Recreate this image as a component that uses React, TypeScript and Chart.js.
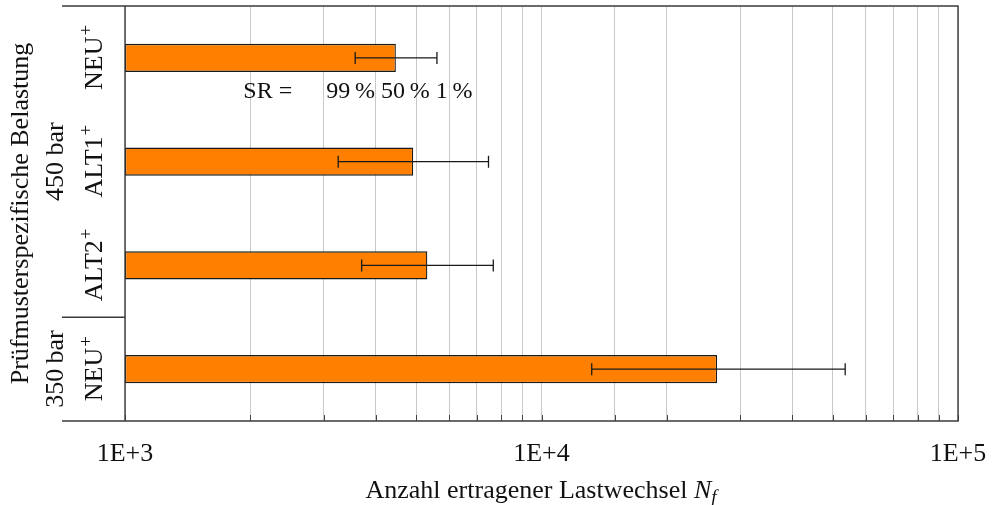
import React, { useEffect, useRef } from 'react';
import { Chart, registerables } from 'chart.js';

Chart.register(...registerables);

// ---- data ----
const categories = ['NEU', 'ALT1', 'ALT2', 'NEU'];
const categorySup = ['+', '+', '+', '+'];
const groupLabels = ['450 bar', '350\u2009bar'];
const groupSizes = [3, 1];
const medianCycles = [4470, 4920, 5320, 26400]; // SR 50 %
const lowCycles = [3570, 3250, 3700, 13200]; // SR 99 %
const highCycles = [5610, 7460, 7660, 53600]; // SR 1 %
const xTickValues = [1000, 10000, 100000];
const xTickLabels = ['1E+3', '1E+4', '1E+5'];
const xTitle = 'Anzahl ertragener Lastwechsel';
const xTitleSymbol = 'N';
const xTitleSub = 'f';
const yTitle = 'Prüfmusterspezifische Belastung';
const srPrefix = 'SR =';
const srLabels = ['99\u2009%', '50\u2009%', '1\u2009%'];

const FONT = '"Liberation Serif", "DejaVu Serif", serif';
const FS = 26;

const overlayPlugin = {
  id: 'overlay',
  afterDatasetsDraw(chart: any) {
    const { ctx, scales } = chart;
    const xs = scales.x;
    const ys = scales.y;
    ctx.save();
    ctx.strokeStyle = '#1a1a1a';
    ctx.lineWidth = 1.3;
    for (let i = 0; i < categories.length; i++) {
      const yc = ys.getPixelForValue(i);
      const x1 = xs.getPixelForValue(lowCycles[i]);
      const x2 = xs.getPixelForValue(highCycles[i]);
      ctx.beginPath();
      ctx.moveTo(x1, yc);
      ctx.lineTo(x2, yc);
      ctx.moveTo(x1, yc - 6);
      ctx.lineTo(x1, yc + 6);
      ctx.moveTo(x2, yc - 6);
      ctx.lineTo(x2, yc + 6);
      ctx.stroke();
    }
    ctx.restore();
  },
  afterDraw(chart: any) {
    const { ctx, chartArea: a, scales } = chart;
    const xs = scales.x;
    const ys = scales.y;
    const leftEdge = 62;
    ctx.save();
    // tick marks at bottom
    ctx.strokeStyle = '#444';
    ctx.lineWidth = 1;
    xs.ticks.forEach((t: any) => {
      const px = Math.round(xs.getPixelForValue(t.value)) + 0.5;
      ctx.beginPath();
      ctx.moveTo(px, a.bottom);
      ctx.lineTo(px, a.bottom - 6);
      ctx.stroke();
    });
    // frame
    ctx.strokeStyle = '#3a3a3a';
    ctx.lineWidth = 1.4;
    ctx.beginPath();
    ctx.moveTo(leftEdge, a.top);
    ctx.lineTo(a.right, a.top);
    ctx.lineTo(a.right, a.bottom);
    ctx.lineTo(leftEdge, a.bottom);
    ctx.moveTo(a.left, a.top);
    ctx.lineTo(a.left, a.bottom);
    let idx = 0;
    for (let g = 0; g < groupSizes.length - 1; g++) {
      idx += groupSizes[g];
      const yd = (ys.getPixelForValue(idx - 1) + ys.getPixelForValue(idx)) / 2;
      ctx.moveTo(leftEdge, yd);
      ctx.lineTo(a.left, yd);
    }
    ctx.stroke();

    ctx.fillStyle = '#111';
    const supFS = Math.round(FS * 0.72);
    // category labels, rotated
    for (let i = 0; i < categories.length; i++) {
      const yc = ys.getPixelForValue(i);
      ctx.save();
      ctx.translate(102, yc);
      ctx.rotate(-Math.PI / 2);
      ctx.font = `${FS}px ${FONT}`;
      const w1 = ctx.measureText(categories[i]).width;
      ctx.font = `${supFS}px ${FONT}`;
      const w2 = ctx.measureText(categorySup[i]).width;
      const x0 = -(w1 + w2) / 2;
      ctx.textAlign = 'left';
      ctx.textBaseline = 'alphabetic';
      ctx.font = `${FS}px ${FONT}`;
      ctx.fillText(categories[i], x0, 0);
      ctx.font = `${supFS}px ${FONT}`;
      ctx.fillText(categorySup[i], x0 + w1 + 1, -10);
      ctx.restore();
    }
    // group labels
    let start = 0;
    for (let g = 0; g < groupSizes.length; g++) {
      const end = start + groupSizes[g] - 1;
      const yc = (ys.getPixelForValue(start) + ys.getPixelForValue(end)) / 2;
      ctx.save();
      ctx.translate(63, yc);
      ctx.rotate(-Math.PI / 2);
      ctx.font = `${FS}px ${FONT}`;
      ctx.textAlign = 'center';
      ctx.textBaseline = 'alphabetic';
      ctx.fillText(groupLabels[g], 0, 0);
      ctx.restore();
      start += groupSizes[g];
    }
    // y title
    ctx.save();
    ctx.translate(28, (a.top + a.bottom) / 2);
    ctx.rotate(-Math.PI / 2);
    ctx.font = `${FS}px ${FONT}`;
    ctx.textAlign = 'center';
    ctx.textBaseline = 'alphabetic';
    ctx.fillText(yTitle, 0, 0);
    ctx.restore();

    // x title with italic N_f
    ctx.save();
    ctx.textAlign = 'left';
    ctx.textBaseline = 'alphabetic';
    ctx.font = `${FS}px ${FONT}`;
    const t1 = xTitle + ' ';
    const wt1 = ctx.measureText(t1).width;
    ctx.font = `italic ${FS}px ${FONT}`;
    const wN = ctx.measureText(xTitleSymbol).width;
    ctx.font = `italic ${supFS}px ${FONT}`;
    const wf = ctx.measureText(xTitleSub).width;
    const total = wt1 + wN + wf + 1;
    const xStart = (a.left + a.right) / 2 - total / 2;
    const yb = 498;
    ctx.font = `${FS}px ${FONT}`;
    ctx.fillText(t1, xStart, yb);
    ctx.font = `italic ${FS}px ${FONT}`;
    ctx.fillText(xTitleSymbol, xStart + wt1, yb);
    ctx.font = `italic ${supFS}px ${FONT}`;
    ctx.fillText(xTitleSub, xStart + wt1 + wN, yb + 5);
    ctx.restore();

    // SR annotation under first bar
    ctx.save();
    ctx.font = `24px ${FONT}`;
    ctx.textBaseline = 'alphabetic';
    const ySR = 98;
    const pLow = xs.getPixelForValue(lowCycles[0]);
    ctx.textAlign = 'right';
    ctx.fillText(srPrefix, pLow - 63, ySR);
    ctx.textAlign = 'left';
    let xp = pLow - 29;
    const gap = ctx.measureText(' ').width;
    srLabels.forEach((s) => {
      ctx.fillText(s, xp, ySR);
      xp += ctx.measureText(s).width + gap;
    });
    ctx.restore();

    ctx.restore();
  },
};

export default function App() {
  const ref = useRef<HTMLCanvasElement>(null);
  useEffect(() => {
    document.body.style.margin = '0';
    const canvas = ref.current!;
    const chart = new Chart(canvas, {
      type: 'bar',
      data: {
        labels: categories.map((c, i) => c + categorySup[i]),
        datasets: [
          {
            data: medianCycles,
            backgroundColor: '#ff8000',
            borderColor: '#1a1a1a',
            borderWidth: 1.3,
            borderSkipped: false,
            barPercentage: 0.27,
            categoryPercentage: 1,
          },
        ],
      },
      options: {
        indexAxis: 'y',
        animation: false,
        responsive: false,
        events: [],
        layout: { padding: { top: 6, right: 38, left: 0, bottom: 0 } },
        plugins: { legend: { display: false }, tooltip: { enabled: false } },
        scales: {
          x: {
            type: 'logarithmic',
            min: 1000,
            max: 100000,
            position: 'bottom',
            border: { display: false },
            grid: { color: '#c8c8c8', lineWidth: 1, drawTicks: false },
            ticks: {
              autoSkip: false,
              maxRotation: 0,
              minRotation: 0,
              padding: 18,
              color: '#111',
              font: { family: FONT, size: FS },
              callback: (v: any) => {
                const k = xTickValues.indexOf(Number(v));
                return k >= 0 ? xTickLabels[k] : '';
              },
            },
            afterFit: (s: any) => {
              s.height = 84;
              s.paddingRight = 0;
              s.paddingLeft = 0;
            },
          },
          y: {
            type: 'category',
            border: { display: false },
            grid: { display: false },
            ticks: { display: false },
            afterFit: (s: any) => {
              s.width = 125;
            },
          },
        },
      },
      plugins: [overlayPlugin],
    });
    return () => chart.destroy();
  }, []);
  return (
    <div style={{ width: 996, height: 505 }}>
      <canvas ref={ref} width={996} height={505} />
    </div>
  );
}
